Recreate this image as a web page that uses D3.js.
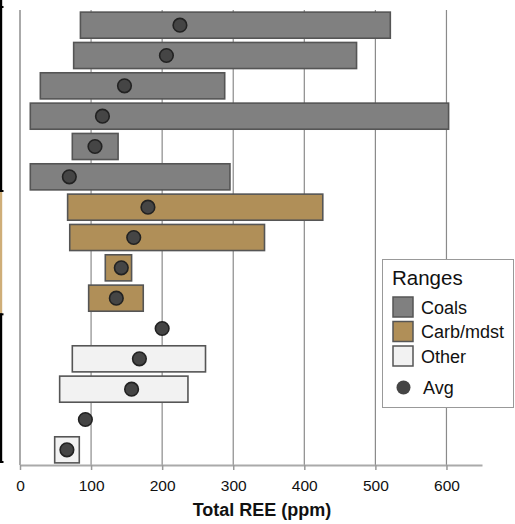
<!DOCTYPE html>
<html><head><meta charset="utf-8">
<script src="https://cdn.jsdelivr.net/npm/d3@7"></script>
<style>body{margin:0;background:#fff}svg{display:block}</style>
</head><body>
<svg id="c" width="515" height="524"></svg>
<script>
const rows   = ["C1","C2","C3","C4","C5","C6","M1","M2","M3","M4","O1","O2","O3","O4","O5"];
const groups = ["Coals","Coals","Coals","Coals","Coals","Coals","Carb/mdst","Carb/mdst","Carb/mdst","Carb/mdst","Other","Other","Other","Other","Other"];
const mins   = [85, 75.5, 28.6, 14.5, 73.6, 14.5, 67, 70, 120, 96.6, null, 73.6, 55.8, null, 48.8];
const maxs   = [521, 473.5, 288, 603, 138, 295.4, 426, 344, 157, 173.4, null, 261, 236.3, null, 83.4];
const avgs   = [225, 206, 147, 116, 105.5, 69.4, 180, 160, 142.5, 135.5, 200, 168, 157, 92, 66];
const xTicks = [0,100,200,300,400,500,600];
const legendItems = ["Coals","Carb/mdst","Other"];
const colors = {"Coals":"#808080","Carb/mdst":"#b08f58","Other":"#f2f2f2"};

const svg = d3.select("#c");
const ff = "Liberation Sans, Arial, sans-serif";
const x = d3.scaleLinear().domain([0,650]).range([20,482]);
const y = d3.scaleBand().domain(rows).range([10,465]).paddingInner(0.14).paddingOuter(0.07);

// left bracket remnants (groups of rows)
const grpNames = ["Coals","Carb/mdst","Other"];
const half = (y.step()-y.bandwidth())/2;
grpNames.forEach(g=>{
  const idx = rows.filter((r,i)=>groups[i]===g);
  let top = y(idx[0]) - half;
  let bot = y(idx[idx.length-1]) + y.bandwidth() + half;
  if(g==="Coals") top = 0;
  if(g==="Other") bot -= 2;
  const col = g==="Carb/mdst" ? "#cfae78" : "#000";
  svg.append("rect").attr("x",0).attr("y",top).attr("width",2.2).attr("height",bot-top).attr("fill",col);
  if(g!=="Carb/mdst"){
    svg.append("rect").attr("x",0).attr("y",g==="Coals"?6:top).attr("width",3.5).attr("height",2).attr("fill","#000");
    svg.append("rect").attr("x",0).attr("y",bot-2).attr("width",3.5).attr("height",2).attr("fill","#000");
  }
});

// gridlines
svg.append("g").selectAll("line").data(xTicks.slice(1)).join("line")
  .attr("x1",d=>x(d)).attr("x2",d=>x(d)).attr("y1",10).attr("y2",465)
  .attr("stroke","#8a8a8a").attr("stroke-width",1.2);

// left axis line
svg.append("line").attr("x1",20).attr("x2",20).attr("y1",10).attr("y2",465)
  .attr("stroke","#aaa").attr("stroke-width",2);

// x axis
const ax = svg.append("g").attr("transform","translate(0,465)")
  .call(d3.axisBottom(x).tickValues(xTicks).tickSize(5).tickPadding(10).tickSizeOuter(0));
ax.select(".domain").attr("stroke","#aaa").attr("stroke-width",2);
ax.selectAll(".tick line").attr("stroke","#999").attr("stroke-width",1.5);
ax.selectAll(".tick text").attr("font-family",ff)
  .attr("font-size",15.5).attr("fill","#111");

svg.append("text").attr("x",262).attr("y",516).attr("text-anchor","middle")
  .attr("font-family",ff).attr("font-weight","bold")
  .attr("font-size",18).attr("fill","#111").text("Total REE (ppm)");

// range bars
const data = rows.map((r,i)=>({r,g:groups[i],lo:mins[i],hi:maxs[i],avg:avgs[i]}));
svg.append("g").selectAll("rect").data(data.filter(d=>d.lo!=null)).join("rect")
  .attr("x",d=>x(d.lo)).attr("width",d=>x(d.hi)-x(d.lo))
  .attr("y",d=>y(d.r)).attr("height",y.bandwidth())
  .attr("fill",d=>colors[d.g]).attr("stroke","#555").attr("stroke-width",1.6);

// avg dots
svg.append("g").selectAll("circle").data(data).join("circle")
  .attr("cx",d=>x(d.avg)).attr("cy",d=>y(d.r)+y.bandwidth()/2).attr("r",6.8)
  .attr("fill","#454545").attr("stroke","#222").attr("stroke-width",1.6);

// legend
const lg = svg.append("g");
lg.append("rect").attr("x",382.5).attr("y",259.5).attr("width",131).attr("height",148)
  .attr("fill","#fff").attr("stroke","#999").attr("stroke-width",1);
lg.append("text").attr("x",392).attr("y",285).attr("font-family",ff).attr("font-size",20.5)
  .attr("fill","#111").text("Ranges");
legendItems.forEach((g,i)=>{
  const yy = 297 + i*24.5;
  lg.append("rect").attr("x",393).attr("y",yy).attr("width",20).attr("height",20)
    .attr("fill",colors[g]).attr("stroke","#555").attr("stroke-width",1.5);
  lg.append("text").attr("x",421).attr("y",yy+16.5).attr("font-family",ff).attr("font-size",18)
    .attr("fill","#111").text(g);
});
lg.append("circle").attr("cx",403.5).attr("cy",387.5).attr("r",7).attr("fill","#454545");
lg.append("text").attr("x",423).attr("y",394).attr("font-family",ff).attr("font-size",18)
  .attr("fill","#111").text("Avg");
</script>
</body></html>
